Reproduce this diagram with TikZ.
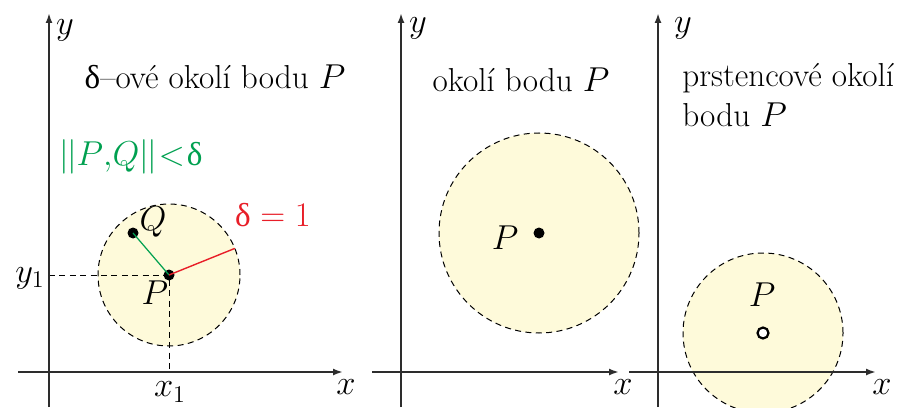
\documentclass[tikz,border=0pt]{standalone}
\usepackage{fontspec}
\newfontfamily\grk{Liberation Serif}
\usetikzlibrary{arrows.meta}

\definecolor{okoli}{RGB}{254,250,218}
\definecolor{zelena}{RGB}{0,160,80}
\definecolor{cervena}{RGB}{232,30,40}
\definecolor{osa}{RGB}{45,45,45}

\tikzset{
  axis/.style={osa, line width=1pt, -{Latex[length=5pt,width=3.5pt]}},
  kruh/.style={fill=okoli, draw=black, line width=0.5pt, dash pattern=on 3pt off 2.2pt},
  pomocna/.style={black, line width=0.5pt, dash pattern=on 3pt off 2.2pt},
  bod/.style={circle, fill=black, inner sep=0pt, minimum size=5.5pt},
  dira/.style={circle, draw=black, fill=white, line width=1.1pt, inner sep=0pt, minimum size=5.5pt},
  popis/.style={font=\fontsize{16.6}{20}\selectfont, inner sep=1pt}
}

\begin{document}
\begin{tikzpicture}[x=0.5pt, y=0.5pt]

   \useasboundingbox (0,0) rectangle (913,407);

   % delta-ove okoli
   \draw [kruh] (169,132) circle (71);
   \node [bod] (P1) at (169,132) {};
   \node [bod] (Q1) at (133,174) {};
   \coordinate (R1) at ([shift={(22:71)}]169,132);
   \coordinate (Y1) at (49,132);
   \coordinate (X1) at (169,35);
   \draw [pomocna] (Y1) -- (P1.center) -- (X1);
   \draw [zelena, line width=0.6pt] (P1.center) -- (Q1.center);
   \draw [cervena, line width=0.7pt] (P1.center) -- (R1);

   \coordinate (A1b) at (49,0);  \coordinate (A1t) at (49,394);
   \coordinate (B1l) at (18,35); \coordinate (B1r) at (343,35);
   \draw [axis] (A1b) -- (A1t);
   \draw [axis] (B1l) -- (B1r);

   \node [popis] (y1) at (65,377) {$y$};
   \node [popis] (x1) at (346,20) {$x$};
   \node [popis] (ysub) at (30,129) {$y_1$};
   \node [popis] (xsub) at (170,15) {$x_1$};
   \node [popis] (P1l) at (155,114) {$P$};
   \node [popis] (Q1l) at (153,185) {$Q$};
   \node [popis, text=cervena] (delta) at (273,192) {{\grk δ}$\;{=}\;1$};
   \node [popis, text=zelena] (norma) at (131,250)
     {$|\mkern-1mu|P{,}Q|\mkern-1mu|\mkern1mu{<}\mkern1mu${\grk δ}};
   \node [popis] (t1) at (215,330) {{\grk δ}--ové okolí bodu $P$};

   % okoli
   \draw [kruh] (539,174) circle (100);
   \node [bod] (P2) at (539,174) {};

   \coordinate (A2b) at (401,0);  \coordinate (A2t) at (401,394);
   \coordinate (B2l) at (372,35); \coordinate (B2r) at (619,35);
   \draw [axis] (A2b) -- (A2t);
   \draw [axis] (B2l) -- (B2r);

   \node [popis] (y2) at (418,379) {$y$};
   \node [popis] (x2) at (623,20) {$x$};
   \node [popis] (P2l) at (505,169) {$P$};
   \node [popis] (t2) at (521,327) {okolí bodu $P$};

   % prstencove okoli
   \draw [kruh] (763,74) circle (80);
   \node [dira] (P3) at (763,74) {};

   \coordinate (A3b) at (658,0);  \coordinate (A3t) at (658,394);
   \coordinate (B3l) at (629,35); \coordinate (B3r) at (876,35);
   \draw [axis] (A3b) -- (A3t);
   \draw [axis] (B3l) -- (B3r);

   \node [popis] (y3) at (683,379) {$y$};
   \node [popis] (x3) at (882,20) {$x$};
   \node [popis] (P3l) at (762,112) {$P$};
   \node [popis, anchor=west, align=left] (t3) at (680,312) {prstencové okolí\\bodu $P$};

\end{tikzpicture}
\end{document}
